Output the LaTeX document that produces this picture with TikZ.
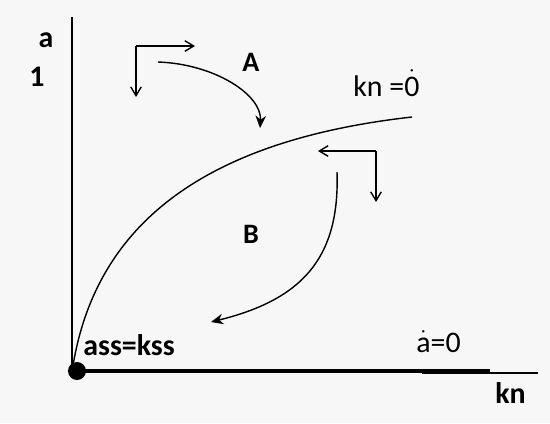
\documentclass[tikz,border=0pt]{standalone}
\usepackage{fontspec}
\setmainfont{Carlito}
\usepackage{tikz}
\usetikzlibrary{arrows.meta}
\definecolor{bg}{HTML}{F7F7F7}
\newcommand{\dotover}[1]{\ensuremath{\dot{\hbox{#1}}}}
\tikzset{
  axis/.style={line width=0.9pt},
  thickaxis/.style={line width=2.4pt},
  curve/.style={line width=0.8pt},
  barb/.style={-{Straight Barb[length=5pt,width=6pt]}, line width=0.8pt},
  swing/.style={-{Stealth[length=7pt,width=6pt]}, line width=0.8pt},
  lbl/.style={font=\fontsize{17}{20}\selectfont\bfseries, inner sep=0pt},
  zone/.style={font=\fontsize{16}{18}\selectfont\bfseries, inner sep=0pt},
  txt/.style={font=\fontsize{17}{20}\selectfont, inner sep=0pt},
  dot/.style={circle, fill=black, inner sep=0pt, minimum size=0.36cm}
}

\begin{document}
\begin{tikzpicture}[x=0.02cm, y=-0.02cm]
  \fill[bg] (0,0) rectangle (550,423);
  \useasboundingbox (0,0) rectangle (550,423);

  % axes
  \coordinate (o) at (72,372);
  \coordinate (ytop) at (72,17);
  \coordinate (xthick) at (490,371);
  \coordinate (xs) at (422,373);
  \coordinate (xe) at (538,373);
  \draw[axis] (o) -- (ytop);
  \draw[thickaxis] (72,371) -- (xthick);
  \draw[line width=0.6pt] (xs) -- (xe);
  \node[dot] (start) at (77,371) {};

  % response curve
  \coordinate (cend) at (412,117);
  \draw[curve] (o) .. controls (92,235) and (190,142) .. (cend);

  % region A
  \coordinate (acorner) at (136,46);
  \coordinate (aright) at (195,46);
  \coordinate (adown) at (136,97);
  \draw[barb] (acorner) -- (aright);
  \draw[barb] (acorner) -- (adown);
  \coordinate (afrom) at (158,62);
  \coordinate (ato) at (260,128);
  \draw[swing] (afrom) .. controls (215,64) and (262,95) .. (ato);

  % region B
  \coordinate (bcorner) at (376,151);
  \coordinate (bleft) at (318,151);
  \coordinate (bdown) at (376,202);
  \draw[barb] (bcorner) -- (bleft);
  \draw[barb] (bcorner) -- (bdown);
  \coordinate (bfrom) at (337,172);
  \coordinate (bto) at (211,322);
  \draw[swing] (bfrom) .. controls (340,260) and (300,300) .. (bto);

  % labels
  \node[lbl] (ya) at (46,40) {a};
  \node[lbl] (yone) at (37,77) {1};
  \node[zone] (za) at (251,62) {A};
  \node[zone] (zb) at (251,234) {B};
  \node[txt, anchor=base west] (kn0) at (353,96) {kn =\dotover{0}};
  \node[txt, anchor=base west] (a0) at (416,352) {\dotover{a}=0};
  \node[lbl, anchor=base west] (ss) at (83,355) {ass=kss};
  \node[lbl, anchor=base west] (xkn) at (495,403) {kn};
\end{tikzpicture}
\end{document}
